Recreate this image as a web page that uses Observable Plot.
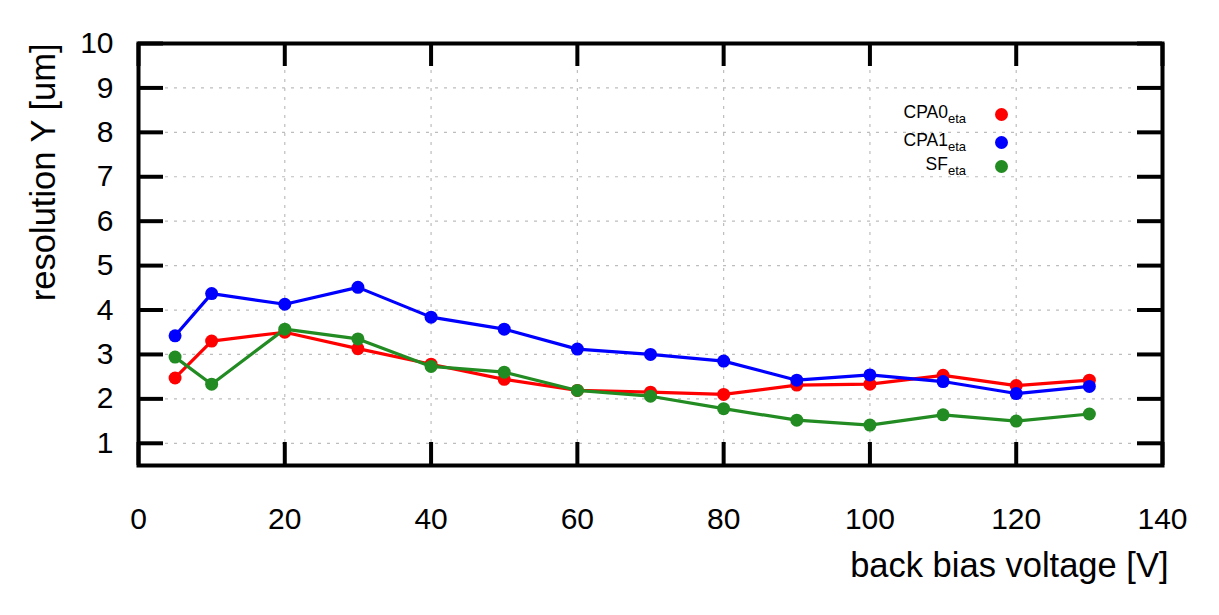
<!DOCTYPE html>
<html>
<head>
<meta charset="utf-8">
<script src="https://cdn.jsdelivr.net/npm/d3@7"></script>
<script src="https://cdn.jsdelivr.net/npm/@observablehq/plot@0.6"></script>
<style>
  html, body { margin: 0; padding: 0; background: #fff; }
  #wrap { position: relative; width: 1219px; height: 615px; font-family: "Liberation Sans", Arial, sans-serif; }
  .leg { position: absolute; font-size: 17.5px; color: #000; white-space: nowrap; }
  .leg sub { font-size: 13px; vertical-align: -5px; line-height: 0; }
  .legdot { position: absolute; width: 13px; height: 13px; border-radius: 50%; }
</style>
</head>
<body>
<div id="wrap"></div>
<script>
// ---- data ----
const voltage = [5, 10, 20, 30, 40, 50, 60, 70, 80, 90, 100, 110, 120, 130];
const cpa0 = [2.47, 3.30, 3.50, 3.13, 2.78, 2.44, 2.19, 2.15, 2.10, 2.31, 2.33, 2.53, 2.30, 2.42];
const cpa1 = [3.42, 4.37, 4.13, 4.51, 3.84, 3.57, 3.12, 3.00, 2.85, 2.42, 2.54, 2.39, 2.12, 2.28];
const sf   = [2.94, 2.33, 3.57, 3.35, 2.73, 2.60, 2.19, 2.06, 1.78, 1.52, 1.41, 1.64, 1.50, 1.66];
const seriesNames = ["CPA0", "CPA1", "SF"];
const seriesSub = ["eta", "eta", "eta"];
const seriesValues = [cpa0, cpa1, sf];
const seriesColors = ["#ff0000", "#0000ff", "#228b22"];
const xTicks = [0, 20, 40, 60, 80, 100, 120, 140];
const yTicks = [1, 2, 3, 4, 5, 6, 7, 8, 9, 10];
const xLabel = "back bias voltage [V]";
const yLabel = "resolution Y [um]";

// ---- table ----
const rows = [];
seriesNames.forEach((name, i) => {
  voltage.forEach((v, j) => rows.push({series: name, x: v, y: seriesValues[i][j]}));
});

const W = 1219, H = 615;
const mL = 138, mR = 57, mT = 43, mB = 150;
const innerW = W - mL - mR, innerH = H - mT - mB;
const tickLen = 25;
const font = "Liberation Sans, Arial, sans-serif";

const marks = [
  Plot.gridX(xTicks.slice(1, -1), {stroke: "#bdbdbd", strokeOpacity: 1, strokeWidth: 1.2, strokeDasharray: "3,6"}),
  Plot.gridY(yTicks.slice(0, -1), {stroke: "#bdbdbd", strokeOpacity: 1, strokeWidth: 1.2, strokeDasharray: "3,6"}),
  // inward ticks
  Plot.tickY(yTicks, {y: d => d, stroke: "#000", strokeWidth: 4, insetRight: innerW - tickLen}),
  Plot.tickY(yTicks, {y: d => d, stroke: "#000", strokeWidth: 4, insetLeft: innerW - tickLen}),
  Plot.tickX(xTicks, {x: d => d, stroke: "#000", strokeWidth: 4, insetTop: innerH - tickLen + 2}),
  Plot.tickX(xTicks, {x: d => d, stroke: "#000", strokeWidth: 4, insetBottom: innerH - tickLen + 2}),
  Plot.axisY(yTicks, {tickSize: 0, tickPadding: 25, fontSize: 30, label: null, fontFamily: font}),
  Plot.axisX(xTicks, {tickSize: 0, tickPadding: 42, fontSize: 30, label: null, fontFamily: font}),
];

seriesNames.forEach((name, i) => {
  const d = rows.filter(r => r.series === name);
  marks.push(Plot.line(d, {x: "x", y: "y", stroke: seriesColors[i], strokeWidth: 3.2}));
  marks.push(Plot.dot(d, {x: "x", y: "y", fill: seriesColors[i], r: 6.5, stroke: "none"}));
});

marks.push(Plot.frame({stroke: "#000", strokeWidth: 4}));
marks.push(Plot.text([yLabel], {text: d => d, frameAnchor: "top-left", rotate: -90, textAnchor: "end", dx: -108, dy: 0, fontSize: 34.5, fontFamily: font, fill: "#000"}));
marks.push(Plot.text([xLabel], {text: d => d, frameAnchor: "bottom-right", textAnchor: "end", dx: 6, dy: 111, fontSize: 34.5, fontFamily: font, fill: "#000"}));

const chart = Plot.plot({
  width: W, height: H,
  marginLeft: mL, marginRight: mR, marginTop: mT, marginBottom: mB,
  x: {domain: [0, 140]},
  y: {domain: [0.5, 10]},
  style: {fontFamily: font, color: "#000", background: "#fff"},
  marks
});
const wrap = document.getElementById("wrap");
wrap.appendChild(chart);

// ---- legend overlay ----
const legendRowCenters = [114, 142, 166];
seriesNames.forEach((name, i) => {
  const t = document.createElement("div");
  t.className = "leg";
  t.style.right = (W - 966) + "px";
  t.style.top = (legendRowCenters[i] - 12) + "px";
  t.innerHTML = name + "<sub>" + seriesSub[i] + "</sub>";
  wrap.appendChild(t);
  const dot = document.createElement("div");
  dot.className = "legdot";
  dot.style.background = seriesColors[i];
  dot.style.left = (1001 - 6.5) + "px";
  dot.style.top = (legendRowCenters[i] - 6.5) + "px";
  wrap.appendChild(dot);
});
</script>
</body>
</html>
